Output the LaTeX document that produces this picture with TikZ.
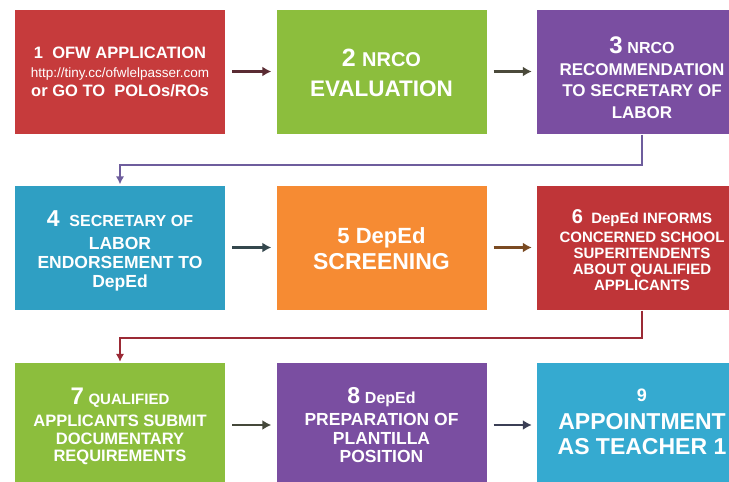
\documentclass[tikz,border=0pt]{standalone}
\usepackage{fontspec}
\setmainfont{Liberation Sans}
\usetikzlibrary{arrows.meta}
\definecolor{stepred}{HTML}{C63B3C}
\definecolor{stepredd}{HTML}{BF3538}
\definecolor{stepgreen}{HTML}{8CBE3D}
\definecolor{steppurple}{HTML}{7A4EA1}
\definecolor{stepteal}{HTML}{2F9FC3}
\definecolor{steptealb}{HTML}{35AAD0}
\definecolor{steporange}{HTML}{F68B33}
\definecolor{arA}{HTML}{5A2B33}
\definecolor{arB}{HTML}{4B4A3B}
\definecolor{arC}{HTML}{34474D}
\definecolor{arD}{HTML}{7A4A22}
\definecolor{arE}{HTML}{45483A}
\definecolor{arF}{HTML}{3B3F55}
\definecolor{turnA}{HTML}{6E5D9D}
\definecolor{turnB}{HTML}{9B2A35}

\begin{document}
\begin{tikzpicture}[x=1pt,y=1pt,
    stepbox/.style={minimum width=210pt,minimum height=124pt,inner sep=0pt},
    txt/.style 2 args={text=white,align=center,inner sep=0pt,font=\bfseries\fontsize{#1}{#2}\selectfont},
    link/.style={-{Latex[length=9pt,width=10pt]},line width=2.3pt},
    turn/.style={-{Latex[length=8pt,width=8.5pt]},line width=1.8pt}]
    \useasboundingbox (0,0) rectangle (729,-482);
    \clip (0,0) rectangle (729,-482);
    \node[stepbox,fill=stepred]    (b1) at (120,-71.5)   {};
    \node[stepbox,fill=stepgreen]  (b2) at (381.5,-71.5) {};
    \node[stepbox,fill=steppurple] (b3) at (642,-71.5)   {};
    \node[stepbox,fill=stepteal]   (b4) at (120,-247.5)   {};
    \node[stepbox,fill=steporange] (b5) at (381.5,-247.5) {};
    \node[stepbox,fill=stepredd]   (b6) at (642,-247.5)   {};
    \node[stepbox,fill=stepgreen]  (b7) at (120,-425)   {};
    \node[stepbox,fill=steppurple] (b8) at (381.5,-425) {};
    \node[stepbox,fill=steptealb]  (b9) at (642,-425)   {};

    \node[txt={16.5}{19}] (t1) at (b1.center) {1~~OFW APPLICATION\\
        {\mdseries\fontsize{13.5}{19}\selectfont http://tiny.cc/ofwlelpasser.com}\\
        or GO TO~ POLOs/ROs};
    \node[txt={22.5}{30}] (t2) at ([yshift=-1pt]b2.center) {{\fontsize{25}{30}\selectfont 2} {\fontsize{20}{30}\selectfont NRCO}\\ EVALUATION};
    \node[txt={17}{21.5}] (t3) at ([yshift=-6pt]b3.center) {{\fontsize{24}{21.5}\selectfont 3} {\fontsize{16}{21.5}\selectfont NRCO}\\
        RECOMMENDATION\\ TO SECRETARY OF\\ LABOR};
    \node[txt={17.5}{19}] (t4) at ([yshift=-3pt]b4.center) {{\fontsize{23}{19}\selectfont 4}~~{\fontsize{16}{19}\selectfont SECRETARY OF}\\[4pt]
        LABOR\\ ENDORSEMENT TO\\ DepEd};
    \node[txt={23}{26}] (t5) at ([yshift=-1.5pt]b5.center) {{\fontsize{22}{26}\selectfont 5 DepEd}\\ SCREENING};
    \node[txt={15}{16}] (t6) at ([yshift=-3pt]b6.center) {{\fontsize{20}{16}\selectfont 6}~ DepEd INFORMS\\[3pt]
        CONCERNED SCHOOL\\ SUPERITENDENTS\\ ABOUT QUALIFIED\\ APPLICANTS};
    \node[txt={16.5}{17.5}] (t7) at ([yshift=-1.5pt]b7.center) {{\fontsize{24}{17.5}\selectfont 7} {\fontsize{15}{17.5}\selectfont QUALIFIED}\\[5pt]
        APPLICANTS SUBMIT\\ DOCUMENTARY\\ REQUIREMENTS};
    \node[txt={17.5}{18.5}] (t8) at (b8.center) {{\fontsize{23}{18.5}\selectfont 8} {\fontsize{16}{18.5}\selectfont DepEd}\\[4pt]
        PREPARATION OF\\ PLANTILLA\\ POSITION};
    \node[txt={23}{24.5}] (t9) at ([yshift=3pt]b9.center) {{\fontsize{18}{24.5}\selectfont 9}\\[3.5pt]
        APPOINTMENT\\ AS TEACHER 1};

    \foreach \a/\b/\c in {b1/b2/arA,b2/b3/arB,b4/b5/arC,b5/b6/arD,b7/b8/arE,b8/b9/arF}{%
        \draw[link,\c] ([xshift=7pt]\a.east) -- ([xshift=-5pt]\b.west);
    }%
    \draw[turn,turnA] ([yshift=-1pt]b3.south) -- ++(0,-30) -| ([yshift=1pt]b4.north);
    \draw[turn,turnB] ([yshift=-1pt]b6.south) -- ++(0,-27) -| ([yshift=1pt]b7.north);
\end{tikzpicture}
\end{document}
